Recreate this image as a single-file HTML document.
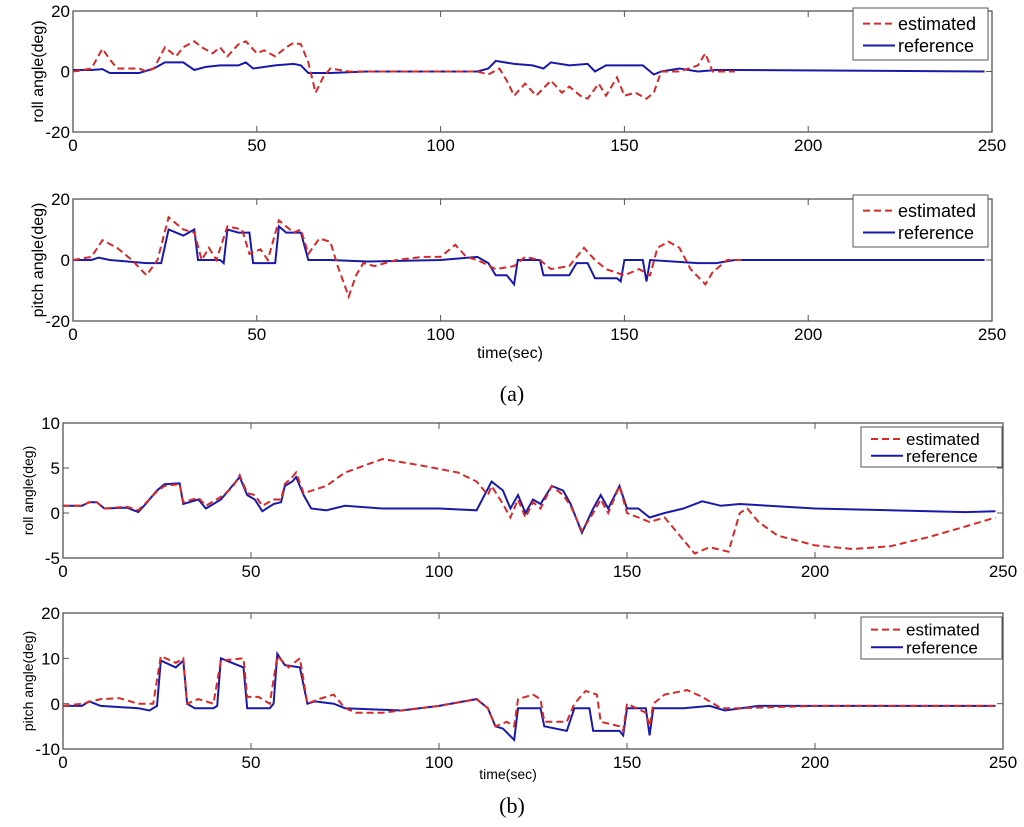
<!DOCTYPE html>
<html><head><meta charset="utf-8"><style>
body{margin:0;background:#fff;width:1024px;height:827px;overflow:hidden}
svg{display:block}
text{font-family:"Liberation Sans",Arial,sans-serif;fill:#000}
</style></head><body>
<svg id="fig" width="1024" height="827" viewBox="0 0 1024 827"></svg>
<script>
// ---- data (time in sec, angle in deg) ----
const aRollRefT=[0,5,8,10,18,22,25,30,33,36,40,45,47,49,55,60,62,64,70,80,110,113,115,120,125,128,130,135,140,142,145,150,155,158,160,165,170,175,180,248];
const aRollRefV=[0.5,0.5,0.8,-0.5,-0.5,1,3,3,0.5,1.5,2,2,3,1,2,2.5,2,-0.5,-0.5,0,0,1,3.5,2.5,2,1,3,2,2.5,0,2,2,2,-1,0,1,0,0.5,0.5,0];
const aRollEstT=[0,5,8,10,12,18,20,22,25,28,30,33,35,38,40,42,45,47,50,52,55,58,60,62,64,66,68,70,75,110,113,116,118,120,123,126,130,133,135,138,140,143,145,148,150,153,156,158,160,165,170,172,174,180];
const aRollEstV=[0,1,7.5,4,1,1,0,1,8,5,8,10,8,6,8,5,9,10,6,7,5,8,9.5,9,3,-7,-2,1,0,0,-1,1,-3,-8,-4,-8,-3,-7,-5,-8,-9,-4,-8,-2,-8,-7,-9,-7,0,0,2,6,0,0];
const aPitchRefT=[0,5,7,10,20,24,26,30,33,34,37,40,41,42,45,48,49,55,56,58,62,64,70,80,100,110,113,115,118,120,121,125,127,128,135,137,140,142,148,149,150,155,156,157,170,175,180,248];
const aPitchRefV=[0,0,0.8,0,-1,-1,10,8,10,0,0,0,-1,10,9,9,-1,-1,11,9,9,0,0,-0.5,0,1,-1,-5,-5,-8,0,0,0,-5,-5,-1,-1,-6,-6,-7,0,0,-7,0,-1,-1,0,0];
const aPitchEstT=[0,5,8,12,16,20,23,26,30,33,35,37,39,42,46,48,51,53,56,60,62,64,67,70,72,75,77,79,82,88,95,100,104,107,110,115,120,123,127,130,135,139,142,145,150,154,157,159,162,165,168,172,174,178,183];
const aPitchEstV=[0,1,6.5,4,0,-5,0,14,10,9,0,4,0,11,10,2,3.5,0,13,9,10,2,7,6,-2,-12,-5,-1,-2,0,1,1,5,1,0,-3,-2,1,0,-3,-2,4,0,-3,-5,-3,-5,4,6,4,-3,-8,-4,0,0];
const bRollRefT=[0,5,7,9,11,17,20,22,25,27,31,32,36,38,42,45,47,49,51,53,56,58,59,61,62,64,66,70,75,85,100,110,114,117,119,121,123,125,127,130,133,135,138,141,143,145,148,150,153,156,160,165,170,175,180,200,240,248];
const bRollRefV=[0.8,0.8,1.2,1.2,0.5,0.6,0.1,1,2.5,3.2,3.3,1,1.5,0.5,1.5,3,4,2,1.5,0.2,1,1.2,3,3.5,4,2,0.5,0.3,0.8,0.5,0.5,0.3,3.5,2.5,0.5,2,0,1.5,1,3,2.5,1,-2.2,0.5,2,0.5,3,0.5,0.5,-0.5,0,0.5,1.3,0.8,1,0.5,0.1,0.2];
const bRollEstT=[0,5,7,9,11,17,20,22,25,27,31,32,36,38,42,45,47,49,51,53,56,58,59,61,62,64,70,75,85,95,105,110,113,114,117,119,121,123,125,127,130,133,135,138,141,143,145,148,150,153,156,160,163,168,172,177,180,182,185,190,200,210,220,230,240,248];
const bRollEstV=[0.8,0.8,1.2,1.2,0.5,0.7,0.3,1.1,2.4,3,3.2,1.2,1.7,0.8,1.8,2.8,4.2,2.2,2,0.8,1.5,1.5,3.2,4,4.5,2.2,3,4.5,6,5.3,4.5,3.5,2,3,1,-0.5,1.5,-0.5,1.2,0.5,3,2,0.8,-2,0,1.5,0,3,0,-0.5,-1,-0.5,-2,-4.5,-3.8,-4.3,0,0.5,-1,-2.5,-3.6,-4,-3.7,-2.7,-1.5,-0.5];
const bPitchRefT=[0,5,7,10,20,23,25,26,30,32,33,35,40,41,42,45,48,49,55,56,57,59,63,65,67,72,75,90,100,110,113,115,117,120,121,127,128,134,136,140,141,148,149,150,155,156,157,165,172,176,185,200,248];
const bPitchRefV=[-0.5,-0.5,0.5,-0.5,-1,-1.5,-0.5,9.5,8,9.5,0,-1,-1,-0.5,10,9,8,-1,-1,0,11,8.5,8,0,0.5,0,-1,-1.5,-0.5,1,-1,-5,-5.5,-8,-1,-1,-5,-6,-1,-1,-6,-6,-7,-1,-1,-7,-1,-1,-0.5,-1.5,-0.5,-0.5,-0.5];
const bPitchEstT=[0,5,10,15,20,24,26,30,32,33,36,40,42,48,49,52,55,57,60,63,65,68,72,75,78,85,90,100,110,113,115,118,120,121,125,127,128,134,136,139,142,143,148,149,150,155,156,157,160,166,170,175,180,200,248];
const bPitchEstV=[-0.5,0,1,1.2,0,0,10.5,9,10,0,1,0,9.5,10,1.5,1.5,0,10.5,8,10,0,1,2,-1,-2,-2,-1.5,-0.5,1,-1,-5,-4,-5,1,2,1,-4,-4,0,2.8,2,-4,-5,-6,0,-2,-5,0,2,3,1.5,-1,-1,-0.5,-0.5];

const xTicks=[0,50,100,150,200,250];
const panels=[
 {name:'a-roll',L:73,R:992,T:11,B:132,ymin:-20,ymax:20,yt:[-20,0,20],lab:'roll angle(deg)',fs:17,lfs:16,ref:[aRollRefT,aRollRefV],est:[aRollEstT,aRollEstV],leg:[853,8,135,52],legfs:18,xl:null},
 {name:'a-pitch',L:73,R:992,T:199,B:321,ymin:-20,ymax:20,yt:[-20,0,20],lab:'pitch angle(deg)',fs:17,lfs:16,ref:[aPitchRefT,aPitchRefV],est:[aPitchEstT,aPitchEstV],leg:[853,195,135,52],legfs:18,xl:[510,358]},
 {name:'b-roll',L:63,R:1003,T:423,B:558,ymin:-5,ymax:10,yt:[-5,0,5,10],lab:'roll angle(deg)',fs:17,lfs:14,ref:[bRollRefT,bRollRefV],est:[bRollEstT,bRollEstV],leg:[861,427,141,40],legfs:17,xl:null},
 {name:'b-pitch',L:63,R:1003,T:613,B:749,ymin:-10,ymax:20,yt:[-10,0,10,20],lab:'pitch angle(deg)',fs:17,lfs:14,ref:[bPitchRefT,bPitchRefV],est:[bPitchEstT,bPitchEstV],leg:[861,617,141,42],legfs:17,xl:[508,779]}
];
const NS='http://www.w3.org/2000/svg';
const svg=document.getElementById('fig');
function mk(tag,attrs,parent){const e=document.createElementNS(NS,tag);for(const k in attrs)e.setAttribute(k,attrs[k]);(parent||svg).appendChild(e);return e;}
panels.forEach(p=>{
 const g=mk('g',{});
 
 
 const xs=t=>p.L+(t-0)/250*(p.R-p.L);
 const ys=v=>p.B-(v-p.ymin)/(p.ymax-p.ymin)*(p.B-p.T);
 const fr=mk('rect',{x:p.L,y:p.T,width:p.R-p.L,height:p.B-p.T,fill:'#fff',stroke:'#555','stroke-width':1.3},g);
 
 
 xTicks.forEach(t=>{
  const x=xs(t);
  mk('line',{x1:x,y1:p.B,x2:x,y2:p.B-6,stroke:'#555'},g);
  mk('line',{x1:x,y1:p.T,x2:x,y2:p.T+6,stroke:'#555'},g);
  const tx=mk('text',{x:x,y:p.B+p.fs+2,'font-size':p.fs,'text-anchor':'middle'},g);
  tx.textContent=t;
  
  
 });
 p.yt.forEach(v=>{
  const y=ys(v);
  mk('line',{x1:p.L,y1:y,x2:p.L+6,y2:y,stroke:'#555'},g);
  mk('line',{x1:p.R,y1:y,x2:p.R-6,y2:y,stroke:'#555'},g);
  const tx=mk('text',{x:p.L-3,y:y+p.fs*0.36,'font-size':p.fs,'text-anchor':'end'},g);
  tx.textContent=v;
  
  
 });
 const yl=mk('text',{x:0,y:0,'font-size':p.lfs,'text-anchor':'middle',transform:`translate(${p.L-30},${(p.T+p.B)/2}) rotate(-90)`},g);
 yl.textContent=p.lab;
 
 
 const path=(T,V)=>T.map((t,i)=>(i?'L':'M')+xs(t).toFixed(1)+','+ys(V[i]).toFixed(1)).join('');
 const r=mk('path',{d:path(p.ref[0],p.ref[1]),fill:'none',stroke:'#1a1aa8','stroke-width':2},g);
 
 
 const e=mk('path',{d:path(p.est[0],p.est[1]),fill:'none',stroke:'#d42a2a','stroke-width':2,'stroke-dasharray':'7,4'},g);
 
 
 const [lx,ly,lw,lh]=p.leg;
 const lg=mk('g',{},g);
 
 
 mk('rect',{x:lx,y:ly,width:lw,height:lh,fill:'#fff',stroke:'#555'},lg);
 const r1=ly+lh*0.3, r2=ly+lh*0.72;
 mk('line',{x1:lx+10,y1:r1,x2:lx+42,y2:r1,stroke:'#d42a2a','stroke-width':2,'stroke-dasharray':'7,4'},lg);
 mk('line',{x1:lx+10,y1:r2,x2:lx+42,y2:r2,stroke:'#1a1aa8','stroke-width':2},lg);
 const t1=mk('text',{x:lx+45,y:r1+p.legfs*0.36,'font-size':p.legfs},lg);t1.textContent='estimated';
 
 
 const t2=mk('text',{x:lx+45,y:r2+p.legfs*0.36,'font-size':p.legfs},lg);t2.textContent='reference';
 
 
 if(p.xl){
  const xl=mk('text',{x:p.xl[0],y:p.xl[1],'font-size':p.lfs,'text-anchor':'middle'},g);
  xl.textContent='time(sec)';
  
  
 }
});
const ca=mk('text',{x:512,y:401,'font-size':22,'text-anchor':'middle'});
ca.textContent='(a)';ca.style.fontFamily='"Liberation Serif",serif';


const cb=mk('text',{x:512,y:813,'font-size':22,'text-anchor':'middle'});
cb.textContent='(b)';cb.style.fontFamily='"Liberation Serif",serif';


</script>
</body></html>
